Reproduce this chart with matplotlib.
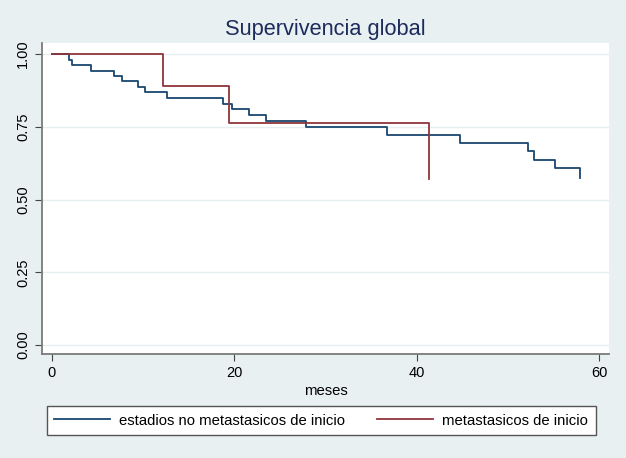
import matplotlib
matplotlib.use("Agg")
import matplotlib.pyplot as plt

plt.rcParams['font.family'] = ['Liberation Sans', 'DejaVu Sans']

# Kaplan-Meier steps (months, survival)
t_no_meta = [0, 1.9, 2.2, 4.25, 6.85, 7.7, 9.4, 10.25, 12.6, 18.8, 19.75,
             21.65, 23.5, 27.85, 36.7, 44.7, 52.2, 52.8, 55.2, 57.9]
s_no_meta = [1.0, 0.979, 0.961, 0.943, 0.926, 0.906, 0.888, 0.869, 0.850, 0.830,
             0.811, 0.792, 0.770, 0.748, 0.723, 0.695, 0.666, 0.636, 0.607, 0.574]

t_meta = [0, 12.2, 19.4, 41.3]
s_meta = [1.0, 0.889, 0.762, 0.571]

labels = ["estadios no metastasicos de inicio", "metastasicos de inicio"]
title = "Supervivencia global"
xlabel = "meses"
yticks = [0, 0.25, 0.5, 0.75, 1.0]
xticks = [0, 20, 40, 60]

bg = "#e8f0f2"
blue = "#1a476f"
red = "#90353b"

fig = plt.figure(figsize=(6.26, 4.58), dpi=100, facecolor=bg)
ax = fig.add_axes([0.0666, 0.2264, 0.9067, 0.6796])
ax.set_facecolor("white")

ax.step(t_no_meta, s_no_meta, where="post", color=blue, lw=1.3, label=labels[0])
ax.step(t_meta, s_meta, where="post", color=red, lw=1.3, label=labels[1])

ax.set_xlim(-1.1, 61.1)
ax.set_ylim(-0.032, 1.038)
ax.set_xticks(xticks)
ax.set_yticks(yticks)
ax.set_yticklabels(["%.2f" % v for v in yticks], rotation=90, va="center")
ax.tick_params(labelsize=10.5, length=5, color="#444444", width=0.8)
ax.grid(axis="y", color="#e6eef0", lw=1.0)
ax.set_axisbelow(True)
for side in ("top", "right"):
    ax.spines[side].set_visible(False)
for side in ("left", "bottom"):
    ax.spines[side].set_color("#7a7a7a")
    ax.spines[side].set_linewidth(1.3)

ax.set_xlabel(xlabel, fontsize=10.75, labelpad=3)
ax.set_title(title, fontsize=15.7, color="#1c2a5c", pad=6)

leg = fig.legend(loc="lower left", bbox_to_anchor=(0.0746, 0.05),
                 ncol=2, fontsize=10.75, handlelength=3.75,
                 handletextpad=0.6, columnspacing=2.15, borderpad=0.5,
                 borderaxespad=0, fancybox=False, framealpha=1)
leg.get_frame().set_edgecolor("#555555")
leg.get_frame().set_linewidth(1.0)

fig.savefig("out.png", dpi=100, facecolor=bg)
